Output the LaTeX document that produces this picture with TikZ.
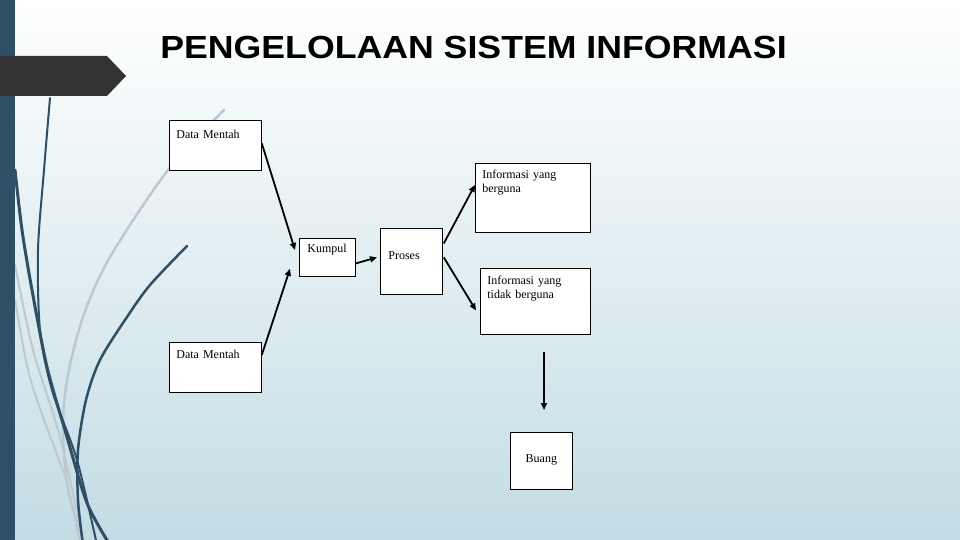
\documentclass[tikz,border=0pt]{standalone}
\usepackage{fontspec}
\setmainfont{Liberation Serif}
\newfontfamily\titlefont{Liberation Sans}
\usetikzlibrary{arrows.meta}
\definecolor{stemdark}{RGB}{46,80,102}
\definecolor{stemlight}{RGB}{190,201,207}
\definecolor{bgblue}{RGB}{195,220,228}
\definecolor{flagdark}{RGB}{51,51,51}

\tikzset{
  infobox/.style={draw=black, fill=white, line width=0.8pt, anchor=north west,
    inner xsep=7pt, inner ysep=0pt, align=left,
    font=\fontsize{12}{14.5}\selectfont},
  flow/.style={line width=1.8pt, -{Triangle[length=7pt,width=6pt]}},
  stem/.style={line width=#1, line cap=round},
}

\begin{document}
\begin{tikzpicture}[x=1pt, y=-1pt]
  \useasboundingbox (0,0) rectangle (960,540);

  %--- Background ---
  \shade[top color=white, bottom color=bgblue] (0,0) rectangle (960,540);

  %--- Decorative stems on the left ---
  \begin{scope}
    \clip (0,0) rectangle (960,540);
    \draw[stem=2.5pt, stemlight] plot[smooth] coordinates
      {(224,110) (168,170) (110,257) (83,317) (67,380) (63,430) (68,490) (83,540)};
    \draw[stem=2pt, stemlight] plot[smooth] coordinates
      {(15,265) (33,350) (60,437) (83,540)};
    \draw[stem=2pt, stemlight] plot[smooth] coordinates
      {(15,300) (28,370) (43,417) (67,483) (80,545)};
    \draw[stem=2pt, stemdark] plot[smooth] coordinates
      {(50,98) (44,170) (38,250) (40,330) (52,390) (77,460) (97,545)};
    \draw[stem=3pt, stemdark] plot[smooth] coordinates
      {(15,170) (22,230) (32,290) (47,367) (67,437) (87,503) (110,545)};
    \draw[stem=2.5pt, stemdark] plot[smooth] coordinates
      {(187,246) (150,285) (127,317) (100,360) (86,400) (78,450) (78,500) (83,545)};
  \end{scope}

  %--- Side bar and flag ---
  \fill[stemdark] (0,0) rectangle (15,540);
  \fill[flagdark] (0,56) -- (107,56) -- (126,76) -- (107,96) -- (0,96) -- cycle;

  %--- Title ---
  \node[font=\titlefont\bfseries\fontsize{32}{36}\selectfont, anchor=base,
    inner sep=0pt, xscale=1.115]
    (title) at (473.5,59) {PENGELOLAAN SISTEM INFORMASI};

  %--- Boxes ---
  \node[infobox, text width=78pt, text height=18pt, text depth=32pt]
    (mentahA) at (169,120) {Data Mentah};
  \node[infobox, text width=78pt, text height=16pt, text depth=34pt]
    (mentahB) at (169,342) {Data Mentah};
  \node[infobox, inner xsep=8pt, text width=40pt, text height=14pt, text depth=24pt]
    (kumpul) at (299,238) {Kumpul};
  \node[infobox, inner xsep=8pt, text width=46pt, text height=31pt, text depth=35pt]
    (proses) at (380,228) {Proses};
  \node[infobox, text width=101pt, text height=15pt, text depth=54pt]
    (berguna) at (475,163) {Informasi yang\\berguna};
  \node[infobox, text width=96pt, text height=16pt, text depth=50pt]
    (tidak) at (480,268) {Informasi yang\\tidak berguna};
  \node[infobox, align=center, text width=48pt, text height=30pt, text depth=27pt]
    (buang) at (510,432) {Buang};

  %--- Connectors ---
  \coordinate (dropA) at (544,352);
  \coordinate (dropB) at (544,410);
  \draw[flow] ([yshift=2pt]mentahA.east) -- ([xshift=-4pt,yshift=-12pt]kumpul.north west);
  \draw[flow] ([yshift=-13pt]mentahB.north east) -- ([xshift=-9pt,yshift=8pt]kumpul.south west);
  \draw[flow] ([yshift=-6pt]kumpul.east) -- ([xshift=-3pt,yshift=4pt]proses.west);
  \draw[flow] ([xshift=1pt,yshift=18pt]proses.east) -- ([yshift=13pt]berguna.west);
  \draw[flow] ([xshift=1pt,yshift=4pt]proses.east) -- ([xshift=-4pt,yshift=-9pt]tidak.west);
  \draw[flow] (dropA) -- (dropB);

\end{tikzpicture}
\end{document}
